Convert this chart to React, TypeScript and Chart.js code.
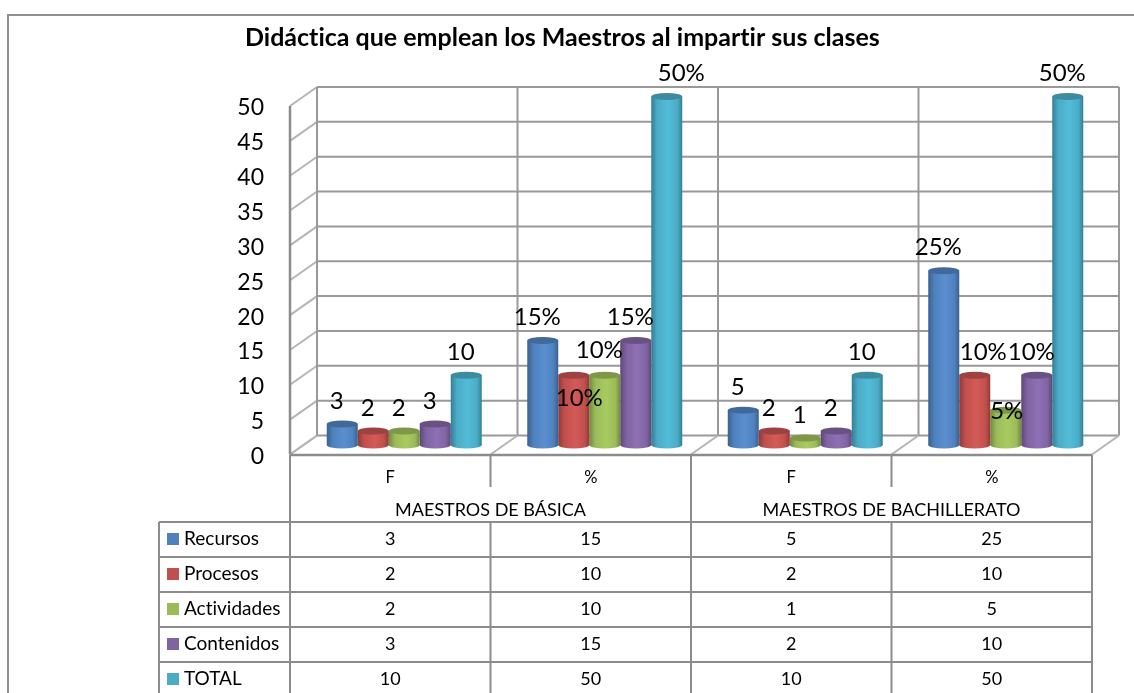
import React, { useEffect, useRef } from "react";
import { Chart, registerables } from "chart.js";

Chart.register(...registerables);

const titleText = "Didáctica que emplean los Maestros al impartir sus clases";
const categories = ["F", "%", "F", "%"];
const groupLabels = ["MAESTROS DE BÁSICA", "MAESTROS DE BACHILLERATO"];
const seriesNames = ["Recursos", "Procesos", "Actividades", "Contenidos", "TOTAL"];
const recursos = [3, 15, 5, 25];
const procesos = [2, 10, 2, 10];
const actividades = [2, 10, 1, 5];
const contenidos = [3, 15, 2, 10];
const total = [10, 50, 10, 50];
const seriesValues = [recursos, procesos, actividades, contenidos, total];
const seriesColors = ["#4f81bd", "#c0504d", "#9bbb59", "#8064a2", "#4bacc6"];
const seriesCap = ["#41699a", "#9c4240", "#7e9848", "#685284", "#3d8ba1"];
const seriesDark = ["#38618f", "#8f3a38", "#71893f", "#5c4878", "#327f94"];
const seriesLight = ["#5a8fd0", "#d45a57", "#a8cb60", "#8e70b4", "#52bcd8"];

const FONT = "Lato";
const GRID = "#999999";
const CAT_PCT = 0.773;
const BAR_SHIFT = { x: 14, y: -9.5 };
const WALL = { x: 27, y: -19 };
const TABLE_LEFT = 159;
const ROW_Y = [522, 557, 592, 627, 662, 697];

// label adjustments for the collisions in the middle of the chart: "series:category" -> [dx, dy]
const labelNudges: Record<string, [number, number]> = {
  "1:1": [11, 46],
  "2:1": [0, -2],
  "4:1": [20, 0],
  "1:3": [14, 0],
  "2:3": [6.5, 24],
};

const line = (c: CanvasRenderingContext2D, x1: number, y1: number, x2: number, y2: number) => {
  c.beginPath();
  c.moveTo(x1, y1);
  c.lineTo(x2, y2);
  c.stroke();
};

const cylinderPlugin = {
  id: "cylinder",
  afterLayout(chart: any) {
    // the tick labels sit far from the axis: widen their clip box without moving the plot
    chart.scales.y.left = 200;
  },
  beforeDraw(chart: any) {
    chart.ctx.textRendering = "optimizeSpeed";
  },
  beforeDatasetsDraw(chart: any) {
    const c = chart.ctx;
    const { y } = chart.scales;
    const area = chart.chartArea;
    c.save();
    // back wall grid
    c.lineWidth = 2;
    y.ticks.forEach((t: any) => {
      const py = y.getPixelForValue(t.value);
      c.strokeStyle = "#b5b5b5";
      line(c, area.left, py, area.left + WALL.x, py + WALL.y);
      c.strokeStyle = GRID;
      line(c, area.left + WALL.x, py + WALL.y, area.right + WALL.x, py + WALL.y);
    });
    const top = y.getPixelForValue(50) + WALL.y;
    const bottom = y.getPixelForValue(0) + WALL.y;
    const step = (area.right - area.left) / categories.length;
    for (let i = 0; i <= categories.length; i++) {
      const fx = area.left + i * step;
      c.strokeStyle = GRID;
      line(c, fx + WALL.x, top, fx + WALL.x, bottom);
      c.strokeStyle = "#b5b5b5";
      line(c, fx, y.getPixelForValue(0), fx + WALL.x, bottom);
    }
    // front axis
    c.strokeStyle = "#8c8c8c";
    c.lineWidth = 2.5;
    line(c, area.left, y.getPixelForValue(50), area.left, y.getPixelForValue(0));
    line(c, area.left, y.getPixelForValue(0) + 0.5, area.right, y.getPixelForValue(0) + 0.5);
    c.restore();
    // bars sit in the middle of the depth of the floor
    c.save();
    c.translate(BAR_SHIFT.x, BAR_SHIFT.y);
  },
  afterDatasetDraw(chart: any, args: any) {
    const c = chart.ctx;
    const i = args.index;
    args.meta.data.forEach((el: any, j: number) => {
      const hw = el.width / 2;
      c.fillStyle = barGradient(chart, i, j);
      c.beginPath();
      c.ellipse(el.x, el.base, hw, 3.5, 0, 0, Math.PI * 2);
      c.fill();
      c.fillStyle = seriesCap[i];
      c.beginPath();
      c.ellipse(el.x, el.y, hw, 3.5, 0, 0, Math.PI * 2);
      c.fill();
    });
  },
  afterDatasetsDraw(chart: any) {
    const c = chart.ctx;
    c.restore();
    // data labels
    c.save();
    c.font = `24px ${FONT}`;
    c.fillStyle = "#000";
    c.textAlign = "center";
    c.textBaseline = "middle";
    seriesValues.forEach((vals, i) => {
      const meta = chart.getDatasetMeta(i);
      vals.forEach((v, j) => {
        const el = meta.data[j];
        const n = labelNudges[`${i}:${j}`] || [0, 0];
        const text = categories[j] === "%" ? `${v}%` : `${v}`;
        c.fillText(text, el.x + BAR_SHIFT.x - 5.5 + n[0], el.y + BAR_SHIFT.y - 23 + n[1]);
      });
    });
    c.restore();
  },
  afterDraw(chart: any) {
    const c = chart.ctx;
    const area = chart.chartArea;
    const step = (area.right - area.left) / categories.length;
    const colX = categories.map((_, i) => area.left + i * step);
    const axisY = chart.scales.y.getPixelForValue(0) + 0.5;
    c.save();
    // outer frame
    c.strokeStyle = "#8f8f8f";
    c.lineWidth = 2;
    c.beginPath();
    c.moveTo(8, 693);
    c.lineTo(8, 15);
    c.lineTo(1134, 15);
    c.stroke();
    // table grid
    c.strokeStyle = "#8c8c8c";
    ROW_Y.forEach((y) => line(c, TABLE_LEFT, y, area.right, y));
    line(c, TABLE_LEFT, ROW_Y[0], TABLE_LEFT, 693);
    line(c, area.left, axisY, area.left, 693);
    line(c, area.right, axisY, area.right, 693);
    line(c, colX[2], axisY, colX[2], 693);
    [1, 3].forEach((k) => {
      line(c, colX[k], axisY, colX[k], 487);
      line(c, colX[k], ROW_Y[0], colX[k], 693);
    });
    // group row
    c.fillStyle = "#000";
    c.font = `18px ${FONT}`;
    c.textAlign = "center";
    c.textBaseline = "middle";
    groupLabels.forEach((g, k) => c.fillText(g, colX[k * 2] + step, 510));
    // rows
    seriesNames.forEach((name, i) => {
      const cy = (ROW_Y[i] + ROW_Y[i + 1]) / 2;
      c.fillStyle = seriesColors[i];
      c.fillRect(167, cy - 6.5, 12, 12);
      c.fillStyle = "#000";
      c.textAlign = "left";
      c.font = `19px ${FONT}`;
      c.fillText(name, 184, cy - 0.5);
      c.textAlign = "center";
      c.font = `18px ${FONT}`;
      seriesValues[i].forEach((v, j) => c.fillText(String(v), colX[j] + step / 2, cy));
    });
    c.restore();
  },
};

function barGradient(chart: any, ds: number, idx: number) {
  const x = chart.scales && chart.scales.x;
  if (!x || !chart.chartArea) return seriesColors[ds];
  const step = (chart.chartArea.right - chart.chartArea.left) / categories.length;
  const w = (step * CAT_PCT) / seriesNames.length;
  const x0 = x.getPixelForValue(idx) - (step * CAT_PCT) / 2 + ds * w;
  const g = chart.ctx.createLinearGradient(x0, 0, x0 + w, 0);
  g.addColorStop(0, seriesDark[ds]);
  g.addColorStop(0.2, seriesColors[ds]);
  g.addColorStop(0.55, seriesLight[ds]);
  g.addColorStop(0.85, seriesColors[ds]);
  g.addColorStop(1, seriesDark[ds]);
  return g;
}

export default function App() {
  const ref = useRef<HTMLCanvasElement>(null);
  useEffect(() => {
    const chart = new Chart(ref.current as HTMLCanvasElement, {
      type: "bar",
      data: {
        labels: categories,
        datasets: seriesNames.map((name, i) => ({
          label: name,
          data: seriesValues[i],
          clip: false,
          borderWidth: 0,
          backgroundColor: (ctx: any) => barGradient(ctx.chart, i, ctx.dataIndex),
          barPercentage: 1,
          categoryPercentage: CAT_PCT,
        })),
      },
      options: {
        responsive: false,
        animation: false,
        layout: { padding: { left: 245, right: 42, top: 0, bottom: 0 } },
        plugins: {
          legend: { display: false },
          tooltip: { enabled: false },
          title: {
            display: true,
            text: titleText,
            align: "start",
            color: "#000",
            font: { family: FONT, size: 25, weight: "bold", lineHeight: 1.2 },
            padding: { top: 23, bottom: 53 },
          },
        },
        scales: {
          x: {
            afterFit: (s: any) => {
              s.height = 238.5;
            },
            grid: { display: false, drawTicks: false },
            border: { display: false },
            ticks: { color: "#000", padding: 13, font: { family: FONT, size: 16.5 } },
          },
          y: {
            min: 0,
            max: 50,
            afterFit: (s: any) => {
              s.width = 45;
            },
            grid: { display: false, drawTicks: false },
            border: { display: false },
            ticks: { stepSize: 5, color: "#000", padding: 26, labelOffset: 2, font: { family: FONT, size: 23 } },
          },
        },
      } as any,
      plugins: [cylinderPlugin as any],
    });
    return () => chart.destroy();
  }, []);
  return (
    <div style={{ position: "fixed", left: 0, top: 0, width: 1134, height: 693, background: "#fff", overflow: "hidden" }}>
      <canvas ref={ref} width={1134} height={693} style={{ display: "block" }} />
    </div>
  );
}
